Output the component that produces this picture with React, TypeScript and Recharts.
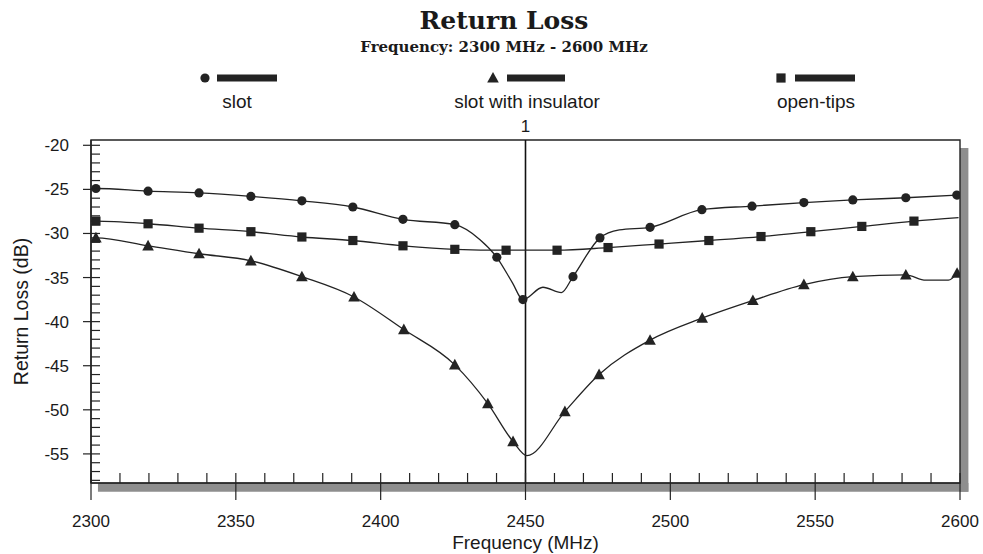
import React from 'react';
import { LineChart, Line, XAxis, YAxis, ReferenceLine, ReferenceArea, Legend, Label } from 'recharts';

// slot (circles)
const slotFreq = [2300, 2301.7, 2319.7, 2337.3, 2355.2, 2372.8, 2390.4, 2407.7, 2425.6, 2434.3, 2440.1, 2445.5, 2449.1, 2456, 2462.4, 2466.4, 2475.7, 2482.4, 2493, 2510.9, 2528.2, 2546.1, 2563, 2581.3, 2598.9];
const slotLoss = [-24.9, -24.9, -25.2, -25.4, -25.8, -26.3, -27.0, -28.4, -29.0, -30.7, -32.7, -35.6, -37.5, -36.1, -36.7, -34.9, -30.5, -29.6, -29.3, -27.3, -26.9, -26.5, -26.2, -25.95, -25.65];
const slotMark = [0, 1, 1, 1, 1, 1, 1, 1, 1, 0, 1, 0, 1, 0, 0, 1, 1, 0, 1, 1, 1, 1, 1, 1, 1];

// slot with insulator (triangles)
const insFreq = [2300, 2301.7, 2319.7, 2337.3, 2355.2, 2372.8, 2390.8, 2408, 2425.6, 2437, 2445.7, 2450.5, 2463.6, 2475.4, 2493, 2511, 2528.5, 2546.1, 2563, 2581.3, 2588.2, 2596, 2599];
const insLoss = [-30.5, -30.5, -31.4, -32.3, -33.1, -34.9, -37.2, -40.9, -44.9, -49.3, -53.6, -55.2, -50.2, -46.0, -42.1, -39.6, -37.6, -35.8, -34.9, -34.7, -35.3, -35.3, -34.5];
const insMark = [0, 1, 1, 1, 1, 1, 1, 1, 1, 1, 1, 0, 1, 1, 1, 1, 1, 1, 1, 1, 0, 0, 1];

// open-tips (squares)
const tipsFreq = [2300, 2301.7, 2319.7, 2337.3, 2355.2, 2372.8, 2390.4, 2407.7, 2425.6, 2443.3, 2460.9, 2478.5, 2496.1, 2513.3, 2531.3, 2548.5, 2566.1, 2584.1, 2599.5];
const tipsLoss = [-28.6, -28.6, -28.9, -29.4, -29.8, -30.4, -30.8, -31.4, -31.8, -31.9, -31.9, -31.6, -31.2, -30.8, -30.35, -29.8, -29.2, -28.6, -28.2];
const tipsMark = [0, 1, 1, 1, 1, 1, 1, 1, 1, 1, 1, 1, 1, 1, 1, 1, 1, 1, 0];

const xTicks = [2300, 2310, 2320, 2330, 2340, 2350, 2360, 2370, 2380, 2390, 2400, 2410, 2420, 2430, 2440, 2450, 2460, 2470, 2480, 2490, 2500, 2510, 2520, 2530, 2540, 2550, 2560, 2570, 2580, 2590, 2600];
const yTicks = [-58, -57, -56, -55, -54, -53, -52, -51, -50, -49, -48, -47, -46, -45, -44, -43, -42, -41, -40, -39, -38, -37, -36, -35, -34, -33, -32, -31, -30, -29, -28, -27, -26, -25, -24, -23, -22, -21, -20];

const toRows = (f: number[], v: number[], m: number[]) => f.map((x, i) => ({ f: x, v: v[i], m: m[i] }));
const slotData = toRows(slotFreq, slotLoss, slotMark);
const insData = toRows(insFreq, insLoss, insMark);
const tipsData = toRows(tipsFreq, tipsLoss, tipsMark);

const INK = '#232323';
const SANS = '"Liberation Sans", Arial, sans-serif';

const Marker = ({ shape, cx, cy }: { shape: string; cx: number; cy: number }) => {
  if (shape === 'circle') return <circle cx={cx} cy={cy} r={4.6} fill={INK} />;
  if (shape === 'square') return <rect x={cx - 4.6} y={cy - 4.6} width={9.2} height={9.2} fill={INK} />;
  return <polygon points={`${cx},${cy - 6} ${cx - 5.8},${cy + 4.6} ${cx + 5.8},${cy + 4.6}`} fill={INK} />;
};

const makeDot = (shape: string) => (props: any) => {
  const { cx, cy, payload, index } = props;
  if (!payload || !payload.m) return <g key={`d-${shape}-${index}`} />;
  return (
    <g key={`d-${shape}-${index}`}>
      <Marker shape={shape} cx={cx} cy={cy} />
    </g>
  );
};

const XTick = ({ x, y, payload }: any) => {
  const major = payload.value % 50 === 0;
  return (
    <g>
      <line x1={x} x2={x} y1={y - 10} y2={major ? y + 17 : y} stroke={INK} strokeWidth={1.2} />
      {major && (
        <text x={x} y={y + 44} textAnchor="middle" fontSize={17} fontFamily={SANS} fill="#1a1a1a">
          {payload.value}
        </text>
      )}
    </g>
  );
};

const YTick = ({ x, y, payload }: any) => {
  const major = payload.value % 5 === 0;
  return (
    <g>
      <line x1={major ? x - 8 : x} x2={x + 9} y1={y} y2={y} stroke={INK} strokeWidth={1.2} />
      {major && (
        <text x={x - 22} y={y + 6} textAnchor="end" fontSize={17} fontFamily={SANS} fill="#1a1a1a">
          {payload.value}
        </text>
      )}
    </g>
  );
};

const YTitle = ({ viewBox }: any) => {
  const cx = 21;
  const cy = viewBox.y + viewBox.height / 2;
  return (
    <text x={cx} y={cy} transform={`rotate(-90 ${cx} ${cy})`} textAnchor="middle" dominantBaseline="central" fontSize={19.5} fontFamily={SANS} fill="#1a1a1a">
      Return Loss (dB)
    </text>
  );
};

const legendSpots: Record<string, { shape: string; marker: number; bar: number; barEnd: number; text: number }> = {
  slot: { shape: 'circle', marker: 205, bar: 217, barEnd: 277, text: 237 },
  'slot with insulator': { shape: 'triangle', marker: 493, bar: 507, barEnd: 565, text: 527 },
  'open-tips': { shape: 'square', marker: 781, bar: 795, barEnd: 855, text: 816 },
};

const LegendBox = ({ payload }: any) => (
  <svg width={983} height={132} style={{ display: 'block' }}>
    <text x={504} y={29} textAnchor="middle" fontSize={25} fontWeight="bold" fontFamily='"DejaVu Serif", serif' fill="#1a1a1a">
      Return Loss
    </text>
    <text x={504} y={52} textAnchor="middle" fontSize={15} fontWeight="bold" fontFamily='"DejaVu Serif", serif' fill="#1a1a1a">
      Frequency: 2300 MHz - 2600 MHz
    </text>
    {(payload || []).map((p: any) => {
      const s = legendSpots[p.value];
      if (!s) return null;
      return (
        <g key={p.value}>
          <Marker shape={s.shape} cx={s.marker} cy={78} />
          <rect x={s.bar} y={74.5} width={s.barEnd - s.bar} height={7} fill={INK} />
          <text x={s.text} y={108} textAnchor="middle" fontSize={19} fontFamily={SANS} fill="#1a1a1a">
            {p.value}
          </text>
        </g>
      );
    })}
  </svg>
);

export default function App() {
  return (
    <div style={{ position: 'absolute', left: 0, top: 0, width: 983, height: 554, background: '#fff' }}>
      <LineChart width={983} height={554} margin={{ top: 140, right: 23, bottom: 31, left: 31 }}>
        <XAxis
          type="number"
          dataKey="f"
          domain={[2300, 2600]}
          ticks={xTicks}
          interval={0}
          tick={<XTick />}
          tickLine={false}
          tickSize={0}
          tickMargin={0}
          axisLine={{ stroke: INK, strokeWidth: 1.2 }}
          height={40}
          allowDataOverflow
        >
          <Label value="Frequency (MHz)" position="bottom" offset={13} fontSize={19} fontFamily={SANS} fill="#1a1a1a" />
        </XAxis>
        <YAxis
          type="number"
          dataKey="v"
          domain={[-58.3, -19.4]}
          ticks={yTicks}
          interval={0}
          tick={<YTick />}
          tickLine={false}
          tickSize={0}
          tickMargin={0}
          axisLine={{ stroke: INK, strokeWidth: 1.4 }}
          width={60}
          allowDataOverflow
        >
          <Label content={<YTitle />} />
        </YAxis>
        <ReferenceArea x1={2600} x2={2602.9} y1={-59.3} y2={-20.3} ifOverflow="visible" fill="#8e8e8e" fillOpacity={1} stroke="none" />
        <ReferenceArea x1={2302.4} x2={2602.9} y1={-59.3} y2={-58.3} ifOverflow="visible" fill="#8e8e8e" fillOpacity={1} stroke="none" />
        <ReferenceArea x1={2300} x2={2600} y1={-58.3} y2={-19.4} fill="none" stroke={INK} strokeWidth={1.4} />
        <ReferenceLine
          x={2450}
          stroke="#111"
          strokeWidth={1.6}
          label={{ value: '1', position: 'top', offset: 8, fontSize: 17, fontFamily: SANS, fill: '#1a1a1a' }}
        />
        <Legend
          layout="horizontal"
          verticalAlign="middle"
          align="center"
          content={<LegendBox />}
          wrapperStyle={{ top: 0, left: 0, width: 983, height: 132 }}
        />
        <Line name="slot" data={slotData} dataKey="v" type="monotone" stroke={INK} strokeWidth={1.3} dot={makeDot('circle')} activeDot={false} isAnimationActive={false} />
        <Line name="slot with insulator" data={insData} dataKey="v" type="monotone" stroke={INK} strokeWidth={1.3} dot={makeDot('triangle')} activeDot={false} isAnimationActive={false} />
        <Line name="open-tips" data={tipsData} dataKey="v" type="monotone" stroke={INK} strokeWidth={1.3} dot={makeDot('square')} activeDot={false} isAnimationActive={false} />
      </LineChart>
    </div>
  );
}
